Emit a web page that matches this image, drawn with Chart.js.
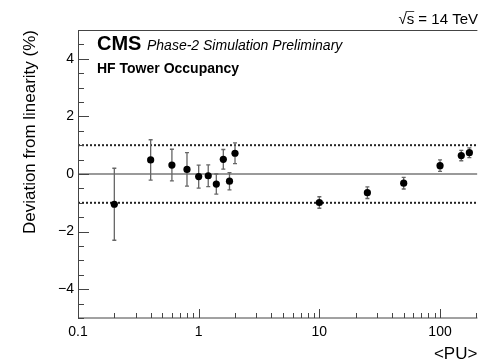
<!DOCTYPE html>
<html>
<head>
<meta charset="utf-8">
<script src="https://cdn.jsdelivr.net/npm/chart.js@4.4.0/dist/chart.umd.min.js"></script>
<style>
  html, body { margin: 0; padding: 0; background: #fff; }
</style>
</head>
<body>
<canvas id="linearity_chart" width="481" height="363"></canvas>
<script>
// 데이터
const puValues = [0.2, 0.4, 0.6, 0.8, 1.0, 1.2, 1.4, 1.6, 1.8, 2.0, 10, 25, 50, 100, 150, 175];
const deviation = [-1.05, 0.49, 0.31, 0.16, -0.09, -0.06, -0.35, 0.51, -0.25, 0.72, -0.99, -0.65, -0.32, 0.29, 0.64, 0.74];
const deviationErr = [1.25, 0.70, 0.55, 0.58, 0.40, 0.38, 0.35, 0.34, 0.30, 0.36, 0.20, 0.20, 0.20, 0.20, 0.18, 0.17];
const xTickLabels = [0.1, 1, 10, 100];
const yTickLabels = [-4, -2, 0, 2, 4];
const bandLimits = [-1, 1];
const xRange = [0.1, 204];
const yRange = [-5, 5];

const FONT = '"Liberation Sans", Arial, Helvetica, sans-serif';

function hLine(y) {
  return [{ x: xRange[0], y: y }, { x: xRange[1], y: y }];
}

// 에러바 그리기 (포인트 데이터셋 바로 전에)
const errorBarPlugin = {
  id: 'errorBars',
  beforeDatasetDraw: (chart, args) => {
    if (args.index !== 0) return;
    const ctx = chart.ctx;
    const xs = chart.scales.x;
    const ys = chart.scales.y;
    ctx.save();
    ctx.strokeStyle = '#666';
    ctx.lineWidth = 1.3;
    puValues.forEach((pu, i) => {
      const x = xs.getPixelForValue(pu);
      const yTop = ys.getPixelForValue(deviation[i] + deviationErr[i]);
      const yBot = ys.getPixelForValue(deviation[i] - deviationErr[i]);
      ctx.beginPath();
      ctx.moveTo(x, yTop);
      ctx.lineTo(x, yBot);
      ctx.moveTo(x - 2, yTop);
      ctx.lineTo(x + 2, yTop);
      ctx.moveTo(x - 2, yBot);
      ctx.lineTo(x + 2, yBot);
      ctx.stroke();
    });
    ctx.restore();
  }
};

// 프레임, 안쪽 눈금, 텍스트
const framePlugin = {
  id: 'frame',
  afterDraw: (chart) => {
    const ctx = chart.ctx;
    const area = chart.chartArea;
    const xs = chart.scales.x;
    const ys = chart.scales.y;
    ctx.save();
    ctx.strokeStyle = '#444';
    ctx.lineWidth = 1;
    ctx.beginPath();
    ctx.moveTo(area.right, area.top + 0.5);
    ctx.lineTo(area.left + 0.5, area.top + 0.5);
    ctx.lineTo(area.left + 0.5, area.bottom);
    ctx.lineTo(area.right, area.bottom);
    ctx.stroke();

    ctx.beginPath();
    // x ticks
    for (let d = -1; d <= 2; d++) {
      for (let k = 1; k <= 9; k++) {
        const v = k * Math.pow(10, d);
        if (v < xRange[0] || v > xRange[1]) continue;
        const x = Math.round(xs.getPixelForValue(v)) + 0.5;
        const len = k === 1 ? 9 : 5;
        ctx.moveTo(x, area.bottom);
        ctx.lineTo(x, area.bottom - len);
      }
    }
    // y ticks
    for (let v = yRange[0]; v <= yRange[1]; v += 0.5) {
      const y = Math.round(ys.getPixelForValue(v)) + 0.5;
      const len = yTickLabels.includes(v) ? 11 : 6;
      ctx.moveTo(area.left, y);
      ctx.lineTo(area.left + len, y);
    }
    ctx.stroke();

    ctx.fillStyle = '#000';
    ctx.textBaseline = 'alphabetic';
    ctx.textAlign = 'left';
    ctx.font = 'bold 20px ' + FONT;
    ctx.fillText('CMS', 97, 50);
    ctx.font = 'italic 14px ' + FONT;
    ctx.fillText('Phase-2 Simulation Preliminary', 147, 50);
    ctx.font = 'bold 14px ' + FONT;
    ctx.fillText('HF Tower Occupancy', 97, 73);

    // √s = 14 TeV
    ctx.font = '15px ' + FONT;
    ctx.textAlign = 'right';
    const label = '\u221As = 14 TeV';
    ctx.fillText(label, 478, 24);
    const w = ctx.measureText(label).width;
    const rootW = ctx.measureText('\u221A').width;
    const sW = ctx.measureText('s').width;
    const x0 = 478 - w + rootW - 1;
    ctx.beginPath();
    ctx.moveTo(x0, 11.5);
    ctx.lineTo(x0 + sW + 1, 11.5);
    ctx.stroke();
    ctx.restore();
  }
};

const ctx = document.getElementById('linearity_chart').getContext('2d');

const chart = new Chart(ctx, {
  type: 'scatter',
  data: {
    datasets: [
      {
        label: 'Deviation',
        data: puValues.map((pu, i) => ({ x: pu, y: deviation[i] })),
        backgroundColor: '#000',
        borderColor: '#000',
        borderWidth: 0,
        pointRadius: 3.6,
        pointHoverRadius: 3.6
      },
      {
        label: 'upper',
        data: hLine(bandLimits[1]),
        showLine: true,
        borderColor: '#222',
        borderWidth: 2,
        borderDash: [2, 2],
        pointRadius: 0
      },
      {
        label: 'lower',
        data: hLine(bandLimits[0]),
        showLine: true,
        borderColor: '#222',
        borderWidth: 2,
        borderDash: [2, 2],
        pointRadius: 0
      },
      {
        label: 'zero',
        data: hLine(0),
        showLine: true,
        borderColor: '#9a9a9a',
        borderWidth: 2,
        pointRadius: 0
      }
    ]
  },
  options: {
    responsive: false,
    animation: false,
    layout: { padding: { top: 30, left: 0, right: 0, bottom: 0 } },
    plugins: {
      legend: { display: false },
      tooltip: { enabled: false }
    },
    scales: {
      x: {
        type: 'logarithmic',
        min: xRange[0],
        max: xRange[1],
        grid: { display: false, drawTicks: false },
        border: { display: false },
        afterBuildTicks: (scale) => {
          scale.ticks = xTickLabels.map(v => ({ value: v }));
        },
        afterFit: (scale) => { scale.height = 45; },
        ticks: {
          autoSkip: false,
          maxRotation: 0,
          padding: 6,
          color: '#000',
          font: { family: FONT, size: 14 },
          callback: (v) => String(v)
        },
        title: {
          display: true,
          text: '<PU>',
          align: 'end',
          color: '#000',
          padding: { top: 0, bottom: 0 },
          font: { family: FONT, size: 17, lineHeight: 1 }
        }
      },
      y: {
        min: yRange[0],
        max: yRange[1],
        grid: { display: false, drawTicks: false },
        border: { display: false },
        afterBuildTicks: (scale) => {
          scale.ticks = yTickLabels.map(v => ({ value: v }));
        },
        afterFit: (scale) => { scale.width = 78; },
        ticks: {
          padding: 4,
          color: '#000',
          font: { family: FONT, size: 14 },
          callback: (v) => v < 0 ? '\u2212' + Math.abs(v) : String(v)
        },
        title: {
          display: true,
          text: 'Deviation from linearity (%)',
          align: 'end',
          color: '#000',
          padding: { top: 20, bottom: 0 },
          font: { family: FONT, size: 17 }
        }
      }
    }
  },
  plugins: [errorBarPlugin, framePlugin]
});
</script>
</body>
</html>
